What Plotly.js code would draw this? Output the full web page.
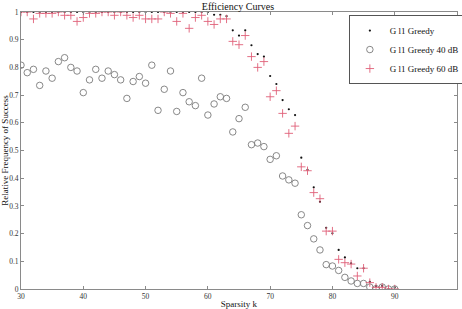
<!DOCTYPE html>
<html>
<head>
<meta charset="utf-8">
<script src="https://cdn.plot.ly/plotly-3.0.1.min.js"></script>
<style>html,body{margin:0;padding:0;background:#fff;}#chart{width:462px;height:309px;}</style>
</head>
<body>
<div id="chart"></div>
<script>
const sparsity = [30,31,32,33,34,35,36,37,38,39,40,41,42,43,44,45,46,47,48,49,50,51,52,53,54,55,56,57,58,59,60,61,62,63,64,65,66,67,68,69,70,71,72,73,74,75,76,77,78,79,80,81,82,83,84,85,86,87,88,89,90];
const greedy = [1,1,1,1,1,1,1,1,1,1, 1,1,1,1,1,1,1,1,1,1, 1,1,1,1,1,1,1,1,1,1,
  1,0.99,0.99,0.985,0.934,0.915,0.934,0.88,0.848,0.839,
  0.769,0.74,0.682,0.649,0.628,0.474,0.43,0.367,0.315,0.221,
  0.201,0.141,0.114,0.093,0.075,0.075,0.026,0.011,0.011,0.0,
  0.006];
const greedy40 = [0.808,0.781,0.793,0.735,0.787,0.761,0.821,0.835,0.8,0.787,
  0.709,0.755,0.793,0.761,0.787,0.774,0.755,0.688,0.749,0.767,
  0.743,0.808,0.645,0.721,0.787,0.641,0.709,0.676,0.662,0.761,
  0.628,0.668,0.694,0.688,0.567,0.615,0.656,0.521,0.527,0.514,
  0.468,0.481,0.408,0.394,0.382,0.268,0.229,0.181,0.141,0.088,
  0.083,0.067,0.042,0.029,0.02,0.02,0.007,0.001,0.007,0,
  0];
const greedy60 = [1.0,1.0,0.975,0.995,0.995,0.995,1.0,0.988,0.988,0.966,
  0.98,0.995,0.995,1.0,1.0,0.988,1.0,0.988,0.98,0.988,
  0.975,0.975,0.975,1.0,0.995,0.966,0.995,0.941,0.98,0.988,
  0.966,0.955,0.975,0.975,0.894,0.882,0.915,0.839,0.8,0.821,
  0.694,0.716,0.634,0.562,0.588,0.441,0.427,0.348,0.326,0.209,
  0.209,0.107,0.095,0.09,0.047,0.075,0.023,0.006,0.006,0,
  0];
const seriesNames = ["G l1 Greedy", "G l1 Greedy 40 dB", "G l1 Greedy 60 dB"];
const yTickVals = [0,0.1,0.2,0.3,0.4,0.5,0.6,0.7,0.8,0.9,1];
const yTickText = ["0","0.1","0.2","0.3","0.4","0.5","0.6","0.7","0.8","0.9","1"];
const xTickVals = [30,40,50,60,70,80,90,100];

const serif = "Liberation Serif, Times New Roman, serif";

const traces = [
  {x: sparsity, y: greedy, name: seriesNames[0], type: "scatter", mode: "markers",
   marker: {symbol: "circle", size: 2.2, color: "#111"}},
  {x: sparsity, y: greedy40, name: seriesNames[1], type: "scatter", mode: "markers",
   marker: {symbol: "circle-open", size: 6.5, color: "#7a7a7a", line: {width: 0.9, color: "#7a7a7a"}}},
  {x: sparsity, y: greedy60, name: seriesNames[2], type: "scatter", mode: "markers",
   marker: {symbol: "cross-thin-open", size: 6, color: "#e06078", line: {width: 0.9, color: "#e06078"}}}
];

const axisCommon = {
  showline: true, linecolor: "#8a8a8a", linewidth: 1, mirror: "ticks",
  ticks: "inside", ticklen: 3, tickcolor: "#8a8a8a", tickwidth: 1,
  showgrid: false, zeroline: false,
  tickfont: {family: serif, size: 7.5, color: "#333"}
};

const layout = {
  width: 462, height: 309,
  margin: {l: 21, r: 5, t: 12, b: 20, pad: 0, autoexpand: false},
  paper_bgcolor: "#fff", plot_bgcolor: "#fff",
  showlegend: true,
  title: {text: "Efficiency Curves", font: {family: serif, size: 10, color: "#111"},
          x: 0.515, xref: "container", y: 1 - 6.5/309, yref: "container", yanchor: "middle"},
  xaxis: Object.assign({}, axisCommon, {
    range: [30, 100], tickvals: xTickVals, ticktext: xTickVals.map(String),
    title: {text: "Sparsity k", font: {family: serif, size: 9, color: "#111"}, standoff: 2}
  }),
  yaxis: Object.assign({}, axisCommon, {
    range: [0, 1], tickvals: yTickVals, ticktext: yTickText,
    title: {text: "Relative Frequency of Success", font: {family: serif, size: 9, color: "#111"}, standoff: 0}
  }),
  legend: {x: 0.752, xanchor: "left", y: 0.989, yanchor: "top",
           bgcolor: "#fff", bordercolor: "#555", borderwidth: 1,
           font: {family: serif, size: 9, color: "#111"},
           tracegroupgap: 0}
};

Plotly.newPlot("chart", traces, layout, {displayModeBar: false, staticPlot: true});
</script>
</body>
</html>
